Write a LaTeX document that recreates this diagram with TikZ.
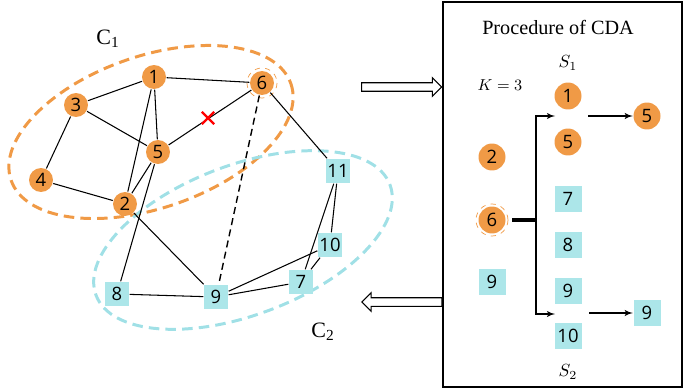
\documentclass[tikz,border=0pt]{standalone}
\usepackage{amssymb, amsmath}
\usepackage{fontspec}
\setmainfont{Liberation Serif}
\newfontfamily\numfont{Open Sans}
\usepackage{tikz}
\usetikzlibrary{arrows,shapes.arrows,shapes.misc,positioning}
\definecolor{cdaorange}{RGB}{240,154,70}
\definecolor{cdacyan}{RGB}{172,230,233}
\definecolor{cdaring}{RGB}{160,224,230}

\begin{document}
\begin{tikzpicture}[x=0.02cm,y=-0.02cm,
						vert/.style={shape=circle,fill=cdaorange,inner sep=0pt,minimum size=0.48cm,font=\numfont\fontsize{10.5}{10.5}\selectfont},
						sqvert/.style={shape=rectangle,fill=cdacyan,inner sep=0pt,minimum size=0.48cm,font=\numfont\fontsize{10.5}{10.5}\selectfont},
						pvert/.style={vert,minimum size=0.54cm},
						psqvert/.style={sqvert,minimum size=0.54cm},
						edge/.style={semithick},
						hollow/.style={single arrow,draw,semithick,fill=white,inner sep=0pt,text height=0.15cm,text depth=0pt,
							minimum height=1.6cm,single arrow head extend=0.1cm,single arrow head indent=0pt},
						>=latex',thick]
		\useasboundingbox (0,0) rectangle (697,392);

		\draw[cdaorange,line width=1.7pt,dash pattern=on 6pt off 3.5pt,rotate around={19:(151,132)}] (151,132) ellipse [x radius=148,y radius=76];
		\draw[cdaring,line width=1.7pt,dash pattern=on 6pt off 3.5pt,rotate around={20.6:(243,240)}] (243,240) ellipse [x radius=157,y radius=75];
		\node[font=\fontsize{12.5}{12.5}\selectfont] (c1) at (108,39) {C\textsubscript{1}};
		\node[font=\fontsize{12.5}{12.5}\selectfont] (c2) at (323,332) {C\textsubscript{2}};

		\node[vert] (n1) at (154,77) {1};
		\node[vert] (n2) at (125,204) {2};
		\node[vert] (n3) at (76,105) {3};
		\node[vert] (n4) at (41,180) {4};
		\node[vert] (n5) at (158,152) {5};
		\node[vert] (n6) at (262,83) {6};
		\node[sqvert] (n7) at (301,282) {7};
		\node[sqvert] (n8) at (117,294) {8};
		\node[sqvert] (n9) at (216,297) {9};
		\node[sqvert] (n10) at (330,245) {10};
		\node[sqvert] (n11) at (338,171) {11};
		\draw[cdaorange,dashed,thin] (n6) circle (15);

		\draw[edge] (n1) -- (n3);
		\draw[edge] (n1) -- (n6);
		\draw[edge] (n1) -- (n5);
		\draw[edge] (n1) -- (n2);
		\draw[edge] (n3) -- (n5);
		\draw[edge] (n3) -- (n4);
		\draw[edge] (n4) -- (n2);
		\draw[edge] (n5) -- (n2);
		\draw[edge] (n5) -- (n8);
		\draw[edge] (n2) -- (n9);
		\draw[edge] (n5) -- (n6);
		\draw[edge] (n6) -- (n11);
		\draw[edge] (n11) -- (n10);
		\draw[edge] (n11) -- (n7);
		\draw[edge] (n10) -- (n7);
		\draw[edge] (n10) -- (n9);
		\draw[edge] (n7) -- (n9);
		\draw[edge] (n8) -- (n9);
		\draw[thick,dash pattern=on 4pt off 2.5pt] (n6) -- (n9);
		\node[cross out,draw=red,line width=1.3pt,minimum size=0.2cm,inner sep=0pt] (cut) at (208,118) {};

		\node[draw,thick,minimum width=4.78cm,minimum height=7.7cm,inner sep=0pt] (proc) at (562.5,194.5) {};
		\node[hollow,anchor=tip] (toproc) at (proc.west |- 0,87) {};
		\node[hollow,shape border rotate=180,anchor=tail] (fromproc) at (proc.west |- 0,302) {};

		\node[font=\fontsize{11.5}{11.5}\selectfont] (title) at (558,27) {Procedure of CDA};
		\node[font=\fontsize{9.5}{9.5}\selectfont] (k) at (500,85) {$K=3$};
		\node (s1) at (568,63) {$S_1$};
		\node (s2) at (568,372) {$S_2$};

		\node[pvert] (p1) at (568,96) {1};
		\node[pvert] (p5) at (568,142) {5};
		\node[pvert] (p2) at (492,157) {2};
		\node[pvert] (p6) at (492,220) {6};
		\draw[cdaorange,dashed,thin] (p6) circle (16);
		\node[psqvert] (p7) at (568,199) {7};
		\node[psqvert] (p8) at (568,245) {8};
		\node[psqvert] (p9l) at (492,282) {9};
		\node[psqvert] (p9) at (568,291) {9};
		\node[psqvert] (p10) at (568,336) {10};
		\node[pvert] (q5) at (647,116) {5};
		\node[psqvert] (q9) at (647,313) {9};

		\coordinate (split) at (536,220);
		\coordinate (s1in) at (555,116);
		\coordinate (s2in) at (555,314);
		\coordinate (s1out) at (588,116);
		\coordinate (s2out) at (589,313);
		\draw[line width=1.8pt] (512,220) -- (split);
		\draw[->,semithick] (split) |- (s1in);
		\draw[->,semithick] (split) |- (s2in);
		\draw[->,semithick] (s1out) -- (q5);
		\draw[->,semithick] (s2out) -- (q9);

	\end{tikzpicture}
\end{document}
